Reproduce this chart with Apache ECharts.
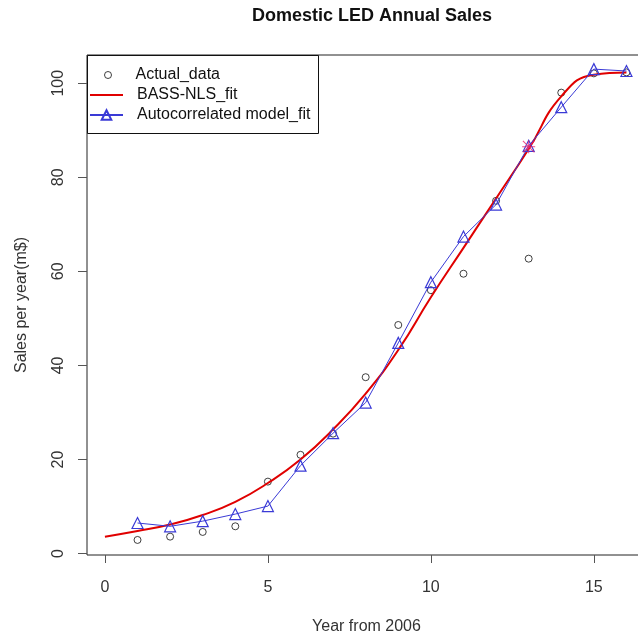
<!DOCTYPE html>
<html>
<head>
<meta charset="utf-8">
<script src="https://cdn.jsdelivr.net/npm/echarts@6/dist/echarts.min.js"></script>
<style>
  html, body { margin: 0; padding: 0; background: #ffffff; }
  #chart { width: 638px; height: 636px; }
</style>
</head>
<body>
<div id="chart"></div>
<script>
// Observed annual sales (m$), years counted from 2006
const years = [1, 2, 3, 4, 5, 6, 7, 8, 9, 10, 11, 12, 13, 14, 15, 16];
const actualSales = [2.9, 3.6, 4.6, 5.8, 15.3, 21.0, 25.5, 37.5, 48.6, 56.0, 59.5, 75.0, 62.7, 98.0, 102.1, 102.3];

// Bass diffusion model fitted by non-linear least squares
const fitYears = [0, 1, 2, 3, 4, 5, 6, 7, 8, 9, 10, 11, 12, 13, 14, 15, 16];
const bassFit = [3.6, 4.8, 6.2, 8.2, 11.0, 15.0, 20.0, 26.4, 34.0, 43.3, 54.5, 65.0, 75.5, 86.0, 97.2, 101.8, 102.3];

// Model with autocorrelated errors
const autoFit = [6.5, 5.8, 6.9, 8.4, 10.1, 18.7, 25.6, 32.1, 44.8, 57.7, 67.4, 74.2, 86.7, 94.9, 103.0, 102.6];

// Adjusted observation for year 13
const adjustedYears = [13];
const adjustedSales = [86.5];

const xTicks = [0, 5, 10, 15];
const yTicks = [0, 20, 40, 60, 80, 100];

const FONT = 'Liberation Sans, Arial, sans-serif';
const ASTERISK = 'path://M9.2,0h1.6v20h-1.6z M0,9.2h20v1.6h-20z M1.7,0.6L19.4,18.3L18.3,19.4L0.6,1.7z M18.3,0.6L19.4,1.7L1.7,19.4L0.6,18.3z';

const pairs = (xs, ys) => xs.map((x, i) => [x, ys[i]]);

const chart = echarts.init(document.getElementById('chart'), null, { renderer: 'canvas' });

chart.setOption({
  backgroundColor: '#ffffff',
  animation: false,
  title: {
    text: 'Domestic LED Annual Sales',
    left: 367,
    top: 2,
    textAlign: 'center',
    textStyle: { fontFamily: FONT, fontSize: 18, fontWeight: 'bold', color: '#111' }
  },
  grid: {
    left: 87, right: -8, top: 55, bottom: 81,
    outerBoundsMode: 'none',
    containLabel: false,
    show: true, borderColor: '#222', borderWidth: 1, backgroundColor: 'transparent'
  },
  xAxis: {
    type: 'value',
    min: -0.55, max: 16.6,
    name: 'Year from 2006',
    nameLocation: 'middle',
    nameGap: 64,
    nameTextStyle: { fontFamily: FONT, fontSize: 16, color: '#333' },
    axisLine: { show: false, onZero: false },
    splitLine: { show: false },
    axisTick: { show: true, length: 8, customValues: xTicks, lineStyle: { color: '#555' } },
    axisLabel: { customValues: xTicks, margin: 25, fontFamily: FONT, fontSize: 16, color: '#333' }
  },
  yAxis: {
    type: 'value',
    min: -0.3, max: 106,
    name: 'Sales per year(m$)',
    nameLocation: 'middle',
    nameRotate: 90,
    nameGap: 57,
    nameTextStyle: { fontFamily: FONT, fontSize: 16, color: '#333' },
    axisLine: { show: false, onZero: false },
    splitLine: { show: false },
    axisTick: { show: true, length: 9, customValues: yTicks, lineStyle: { color: '#555' } },
    axisLabel: { customValues: yTicks, rotate: 90, margin: 20, fontFamily: FONT, fontSize: 16, color: '#333' }
  },
  legend: [
    {
      data: [{ name: 'Actual_data', itemStyle: { borderWidth: 1 } }],
      left: 104, top: 67,
      padding: 0,
      itemWidth: 33, itemHeight: 7,
      textStyle: { fontFamily: FONT, fontSize: 16, color: '#111', padding: [0, 0, 0, 6] }
    },
    {
      data: [
        { name: 'BASS-NLS_fit', itemStyle: { opacity: 0 } },
        'Autocorrelated model_fit'
      ],
      orient: 'vertical',
      left: 89, top: 87,
      padding: 0,
      itemGap: 4,
      itemWidth: 33, itemHeight: 12,
      textStyle: { fontFamily: FONT, fontSize: 16, color: '#111', padding: [0, 0, 0, 9] }
    }
  ],
  graphic: [
    {
      type: 'rect',
      shape: { x: 87.5, y: 55.5, width: 231, height: 78 },
      style: { fill: 'none', stroke: '#111', lineWidth: 1 },
      silent: true
    }
  ],
  series: [
    {
      name: 'Actual_data',
      type: 'scatter',
      data: pairs(years, actualSales),
      symbol: 'circle',
      symbolSize: 7,
      itemStyle: { color: 'rgba(0,0,0,0)', borderColor: '#111', borderWidth: 1 },
      z: 3
    },
    {
      name: 'BASS-NLS_fit',
      type: 'line',
      data: pairs(fitYears, bassFit),
      symbol: 'none',
      smooth: 0.5,
      lineStyle: { color: '#e00000', width: 2 },
      itemStyle: { color: '#e00000' },
      z: 4
    },
    {
      name: 'Autocorrelated model_fit',
      type: 'line',
      data: pairs(years, autoFit),
      symbol: 'triangle',
      symbolSize: 11,
      showSymbol: true,
      lineStyle: { color: '#3a3ad6', width: 1 },
      itemStyle: { color: 'rgba(0,0,0,0)', borderColor: '#3a3ad6', borderWidth: 1.2 },
      z: 5
    },
    {
      name: 'Adjusted',
      type: 'scatter',
      data: pairs(adjustedYears, adjustedSales),
      symbol: ASTERISK,
      symbolSize: 13,
      itemStyle: { color: '#e8206a' },
      z: 6
    }
  ]
});
</script>
</body>
</html>
